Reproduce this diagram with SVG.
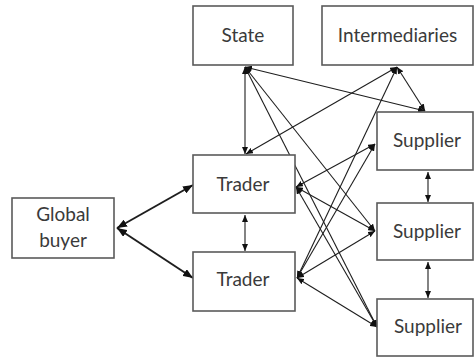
<svg xmlns="http://www.w3.org/2000/svg" width="475" height="358" viewBox="0 0 475 358">
  <style>
    .box { fill: #ffffff; stroke: #5a5a5a; stroke-width: 1.6; }
    .lbl { font-family: Lato, "Open Sans", "Liberation Sans", sans-serif; font-size: 19px; fill: #3a3a3a; text-anchor: middle; }
    .ln { fill: none; stroke: #1e1e1e; stroke-width: 1.1; marker-end: url(#ah); marker-start: url(#ah); }
    .thick { fill: none; stroke: #1e1e1e; stroke-width: 2; marker-end: url(#ahBig); marker-start: url(#ahBig); }
  </style>
  <defs>
    <marker id="ah" markerUnits="userSpaceOnUse" markerWidth="7" markerHeight="6" refX="7" refY="3" orient="auto-start-reverse">
      <path d="M0,0 L7,3 L0,6 z" fill="#111"/>
    </marker>
    <marker id="ahBig" markerUnits="userSpaceOnUse" markerWidth="10" markerHeight="8" refX="10" refY="4" orient="auto-start-reverse">
      <path d="M0,0 L10,4 L0,8 z" fill="#111"/>
    </marker>
  </defs>

  <rect width="475" height="358" fill="#ffffff"/>

  <g id="connectors">
    <!-- global buyer to traders -->
    <line class="thick" x1="117" y1="228" x2="193" y2="185"/>
    <line class="thick" x1="117" y1="228" x2="193" y2="278"/>
    <!-- state links -->
    <line class="ln" x1="245" y1="67" x2="245" y2="154"/>
    <line class="ln" x1="245" y1="67" x2="425" y2="111"/>
    <line class="ln" x1="245" y1="67" x2="375" y2="231"/>
    <line class="ln" x1="245" y1="67" x2="377" y2="327"/>
    <!-- intermediaries links -->
    <line class="ln" x1="397" y1="67" x2="246" y2="154"/>
    <line class="ln" x1="397" y1="67" x2="425" y2="111"/>
    <line class="ln" x1="397" y1="67" x2="297" y2="278"/>
    <!-- trader to trader -->
    <line class="ln" x1="245" y1="215" x2="245" y2="251"/>
    <!-- upper trader to suppliers -->
    <line class="ln" x1="296" y1="187" x2="375" y2="144"/>
    <line class="ln" x1="296" y1="187" x2="375" y2="231"/>
    <line class="ln" x1="296" y1="187" x2="377" y2="327"/>
    <!-- lower trader to suppliers -->
    <line class="ln" x1="297" y1="278" x2="375" y2="144"/>
    <line class="ln" x1="297" y1="278" x2="375" y2="231"/>
    <line class="ln" x1="297" y1="278" x2="377" y2="327"/>
    <!-- supplier to supplier -->
    <line class="ln" x1="428" y1="172" x2="428" y2="202"/>
    <line class="ln" x1="428" y1="262" x2="428" y2="298"/>
  </g>

  <g id="state">
    <rect class="box" x="193" y="6" width="100" height="59"/>
    <text class="lbl" x="243" y="42">State</text>
  </g>
  <g id="intermediaries">
    <rect class="box" x="322" y="6" width="151" height="59"/>
    <text class="lbl" x="397.5" y="42">Intermediaries</text>
  </g>
  <g id="global-buyer">
    <rect class="box" x="12" y="198" width="102" height="60"/>
    <text class="lbl" x="63" y="221">Global</text>
    <text class="lbl" x="63" y="247">buyer</text>
  </g>
  <g id="trader-1">
    <rect class="box" x="193" y="155" width="102" height="58"/>
    <text class="lbl" x="243" y="191">Trader</text>
  </g>
  <g id="trader-2">
    <rect class="box" x="193" y="252" width="102" height="59"/>
    <text class="lbl" x="243" y="286">Trader</text>
  </g>
  <g id="supplier-1">
    <rect class="box" x="377" y="112" width="96" height="58"/>
    <text class="lbl" x="427" y="147">Supplier</text>
  </g>
  <g id="supplier-2">
    <rect class="box" x="377" y="203" width="96" height="57"/>
    <text class="lbl" x="427" y="238">Supplier</text>
  </g>
  <g id="supplier-3">
    <rect class="box" x="377" y="299" width="96" height="57"/>
    <text class="lbl" x="428" y="333">Supplier</text>
  </g>
</svg>
